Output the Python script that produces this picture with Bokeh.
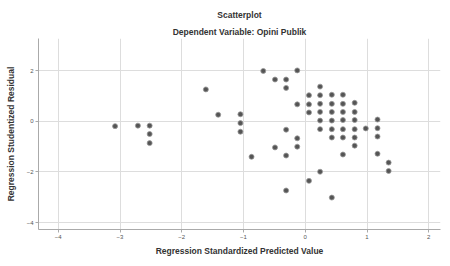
from bokeh.plotting import figure
from bokeh.models import ColumnDataSource, Range1d, FixedTicker, Title
from bokeh.embed import file_html
from bokeh.resources import INLINE

# Regression Standardized Predicted Value
pred = [-3.08, -2.71, -2.52, -2.52, -2.52, -1.61, -1.41, -1.05, -1.05, -1.05,
        -0.87, -0.68, -0.13, -0.49, -0.31, -0.31, 0.24, 0.06, 0.24, 0.43,
        0.61, -0.13, 0.06, 0.24, 0.43, 0.61, 0.80, 0.06, 0.24, 0.43,
        0.61, 0.80, 0.24, 0.43, 0.61, 0.80, 1.17, -0.31, 0.24, 0.43,
        0.61, 0.80, 0.98, 1.17, -0.13, 0.43, 0.61, 0.80, 1.17, -0.49,
        -0.13, 0.80, -0.31, 0.61, 1.17, 1.35, 1.35, 0.24, 0.06, -0.31,
        0.43]
# Regression Studentized Residual
resid = [-0.19, -0.17, -0.17, -0.50, -0.86, 1.26, 0.26, 0.28, -0.07, -0.41,
         -1.40, 1.99, 2.01, 1.65, 1.65, 1.32, 1.37, 1.03, 1.03, 1.05,
         1.05, 0.67, 0.67, 0.69, 0.69, 0.69, 0.73, 0.35, 0.37, 0.37,
         0.37, 0.37, 0.03, 0.03, 0.05, 0.05, 0.07, -0.33, -0.31, -0.31,
         -0.31, -0.31, -0.28, -0.27, -0.67, -0.64, -0.64, -0.64, -0.60, -1.03,
         -1.00, -0.96, -1.35, -1.31, -1.28, -1.63, -1.96, -1.99, -2.35, -2.73,
         -3.01]

x_ticks = [-4, -3, -2, -1, 0, 1, 2]
y_ticks = [-4, -2, 0, 2]

FONT = "Liberation Sans"

p = figure(width=442, height=258, output_backend="svg", toolbar_location=None,
           x_range=Range1d(-4.32, 2.19), y_range=Range1d(-4.27, 3.27),
           min_border_left=38, min_border_right=2, min_border_top=38,
           min_border_bottom=29)

p.add_layout(Title(text="Dependent Variable: Opini Publik", align="center",
                   text_font=FONT, text_font_size="8.5px", text_font_style="bold",
                   text_color="#333333", standoff=4), "above")
p.add_layout(Title(text="Scatterplot", align="center",
                   text_font=FONT, text_font_size="8.5px", text_font_style="bold",
                   text_color="#333333", standoff=6), "above")

src = ColumnDataSource(dict(x=pred, y=resid))
p.scatter("x", "y", source=src, size=5, fill_color="#555555",
          line_color="#999999", line_width=0.8)

p.xaxis.ticker = FixedTicker(ticks=x_ticks)
p.yaxis.ticker = FixedTicker(ticks=y_ticks)
p.xaxis.axis_label = "Regression Standardized Predicted Value"
p.yaxis.axis_label = "Regression Studentized Residual"
for ax in (p.xaxis, p.yaxis):
    ax.axis_label_text_font = FONT
    ax.axis_label_text_font_size = "8.5px"
    ax.axis_label_text_font_style = "bold"
    ax.axis_label_text_color = "#333333"
    ax.major_label_text_font = FONT
    ax.major_label_text_font_size = "6px"
    ax.major_label_text_color = "#555555"
    ax.axis_line_color = "#aaaaaa"
    ax.major_tick_line_color = "#aaaaaa"
    ax.major_tick_in = 0
    ax.major_tick_out = 3
    ax.minor_tick_line_color = None
    ax.major_label_standoff = 2
p.xaxis.axis_label_standoff = 4
p.yaxis.axis_label_standoff = 8

p.xgrid.grid_line_color = "#dddddd"
p.ygrid.grid_line_color = "#dddddd"
p.outline_line_color = None
p.background_fill_color = "white"

open("out.html", "w").write(file_html(p, INLINE))
